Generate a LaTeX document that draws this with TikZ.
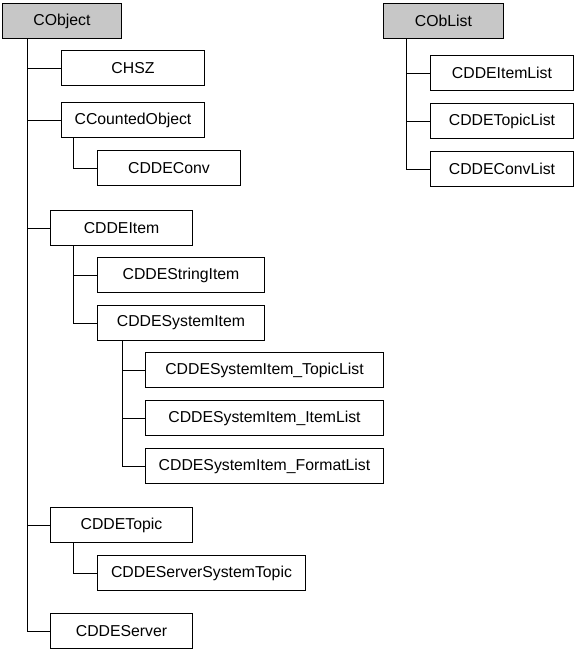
\documentclass[tikz,border=0pt]{standalone}
\usepackage{fontspec}
\setmainfont{Liberation Sans}
\tikzset{
  cls/.style={draw, line width=1pt, anchor=north west, inner sep=0pt,
    minimum height=35pt, font=\fontsize{15.8}{18}\selectfont},
  base/.style={cls, fill=black!22},
}
\begin{document}
\begin{tikzpicture}[x=1pt, y=-1pt, line width=1pt]
  \useasboundingbox (0,0) rectangle (574,651);
  % ルートクラス
  \node[base, minimum width=119pt] (cobject) at (2,3) {CObject};
  \node[base, minimum width=120pt] (coblist) at (383,3) {CObList};
  % CObject の派生クラス
  \node[cls, minimum width=143pt] (chsz) at (61,50) {CHSZ};
  \node[cls, minimum width=143pt] (counted) at (61,102) {CCountedObject};
  \node[cls, minimum width=143pt] (conv) at (97,150) {CDDEConv};
  \node[cls, minimum width=142pt] (item) at (50,210) {CDDEItem};
  \node[cls, minimum width=167pt] (stritem) at (97,257) {CDDEStringItem};
  \node[cls, minimum width=167pt] (sysitem) at (97,305) {CDDESystemItem};
  \node[cls, minimum width=238pt] (systopic) at (145,352) {CDDESystemItem\_TopicList};
  \node[cls, minimum width=238pt] (sysitems) at (145,400) {CDDESystemItem\_ItemList};
  \node[cls, minimum width=238pt] (sysfmt) at (145,448) {CDDESystemItem\_FormatList};
  \node[cls, minimum width=142pt] (topic) at (50,507) {CDDETopic};
  \node[cls, minimum width=208pt] (srvtopic) at (97,555) {CDDEServerSystemTopic};
  \node[cls, minimum width=142pt] (server) at (50,613) {CDDEServer};
  % CObList の派生クラス
  \node[cls, minimum width=143pt] (itemlist) at (430,55) {CDDEItemList};
  \node[cls, minimum width=143pt] (topiclist) at (430,103) {CDDETopicList};
  \node[cls, minimum width=143pt] (convlist) at (430,151) {CDDEConvList};
  % 継承の線
  \foreach \c in {chsz, counted, item, topic, server}
    \draw ([xshift=25pt]cobject.south west) |- (\c.west);
  \draw ([xshift=12pt]counted.south west) |- (conv.west);
  \foreach \c in {stritem, sysitem}
    \draw ([xshift=23pt]item.south west) |- (\c.west);
  \foreach \c in {systopic, sysitems, sysfmt}
    \draw ([xshift=25pt]sysitem.south west) |- (\c.west);
  \draw ([xshift=23pt]topic.south west) |- (srvtopic.west);
  \foreach \c in {itemlist, topiclist, convlist}
    \draw ([xshift=23pt]coblist.south west) |- (\c.west);
\end{tikzpicture}
\end{document}
